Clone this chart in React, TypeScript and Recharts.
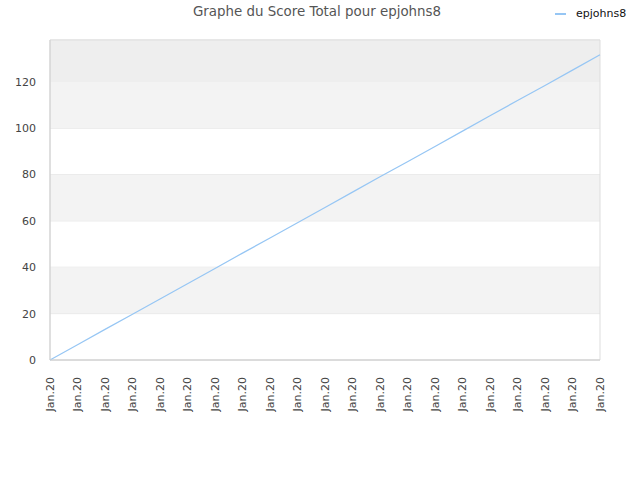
import { CartesianGrid, Line, LineChart, ReferenceArea, XAxis, YAxis } from 'recharts'

const dateLabels = [
  'Jan.20', 'Jan.20', 'Jan.20', 'Jan.20', 'Jan.20', 'Jan.20', 'Jan.20',
  'Jan.20', 'Jan.20', 'Jan.20', 'Jan.20', 'Jan.20', 'Jan.20', 'Jan.20',
  'Jan.20', 'Jan.20', 'Jan.20', 'Jan.20', 'Jan.20', 'Jan.20', 'Jan.20',
]
const scoreValues = [
  0, 6.6, 13.2, 19.7, 26.3, 32.9, 39.5, 46.1, 52.6, 59.2, 65.8,
  72.4, 79.0, 85.5, 92.1, 98.7, 105.3, 111.9, 118.4, 125.0, 131.6,
]
const yTicks = [0, 20, 40, 60, 80, 100, 120]
const grayBands = [
  [20, 40],
  [60, 80],
  [100, 120],
]

const FONT = '"DejaVu Sans", sans-serif'
const LINE_COLOR = '#96c6f4'

const chartData = scoreValues.map((score, idx) => ({ idx, score }))
const xTicks = dateLabels.map((_, i) => i)

const RotatedTick = (props: any) => {
  const { x, y, payload } = props
  return (
    <text
      x={x}
      y={y + 9}
      transform={`rotate(-90, ${x}, ${y + 9})`}
      textAnchor="end"
      dominantBaseline="central"
      fontSize={11}
      fontFamily={FONT}
      fill="#444"
    >
      {dateLabels[payload.value]}
    </text>
  )
}

export default function App() {
  return (
    <div style={{ position: 'absolute', left: 0, top: 0, width: 640, height: 480, background: '#fff' }}>
      <div
        style={{
          position: 'absolute',
          left: 0,
          width: 634,
          top: 4,
          textAlign: 'center',
          fontFamily: FONT,
          fontSize: 13.4,
          color: '#555',
        }}
      >
        Graphe du Score Total pour epjohns8
      </div>
      <div style={{ position: 'absolute', left: 555, top: 7, display: 'flex', alignItems: 'center' }}>
        <div style={{ width: 11, height: 2, background: LINE_COLOR, marginRight: 10 }} />
        <span style={{ fontFamily: FONT, fontSize: 11, color: '#111' }}>epjohns8</span>
      </div>
      <LineChart
        width={640}
        height={480}
        data={chartData}
        margin={{ top: 40, right: 40, left: 0, bottom: 60 }}
      >
        <ReferenceArea y1={120} y2={138} fill="#eeeeee" fillOpacity={1} stroke="none" />
        {grayBands.map(([lo, hi]) => (
          <ReferenceArea key={lo} y1={lo} y2={hi} fill="#f3f3f3" fillOpacity={1} stroke="none" />
        ))}
        <CartesianGrid vertical={false} stroke="#e2e2e2" />
        <ReferenceArea
          x1={0}
          x2={20}
          y1={0}
          y2={138}
          fill="none"
          stroke="#dddddd"
          strokeWidth={1}
        />
        <XAxis
          dataKey="idx"
          type="number"
          domain={[0, 20]}
          ticks={xTicks}
          interval={0}
          height={60}
          tick={<RotatedTick />}
          tickLine={false}
          axisLine={{ stroke: '#d0d0d0' }}
        />
        <YAxis
          domain={[0, 138]}
          ticks={yTicks}
          width={50}
          tickLine={false}
          axisLine={{ stroke: '#d0d0d0' }}
          tick={{ fontSize: 11, fontFamily: FONT, fill: '#444' }}
          tickMargin={8}
        />
        <Line
          type="linear"
          dataKey="score"
          stroke={LINE_COLOR}
          strokeWidth={1.2}
          dot={false}
          isAnimationActive={false}
        />
      </LineChart>
    </div>
  )
}
